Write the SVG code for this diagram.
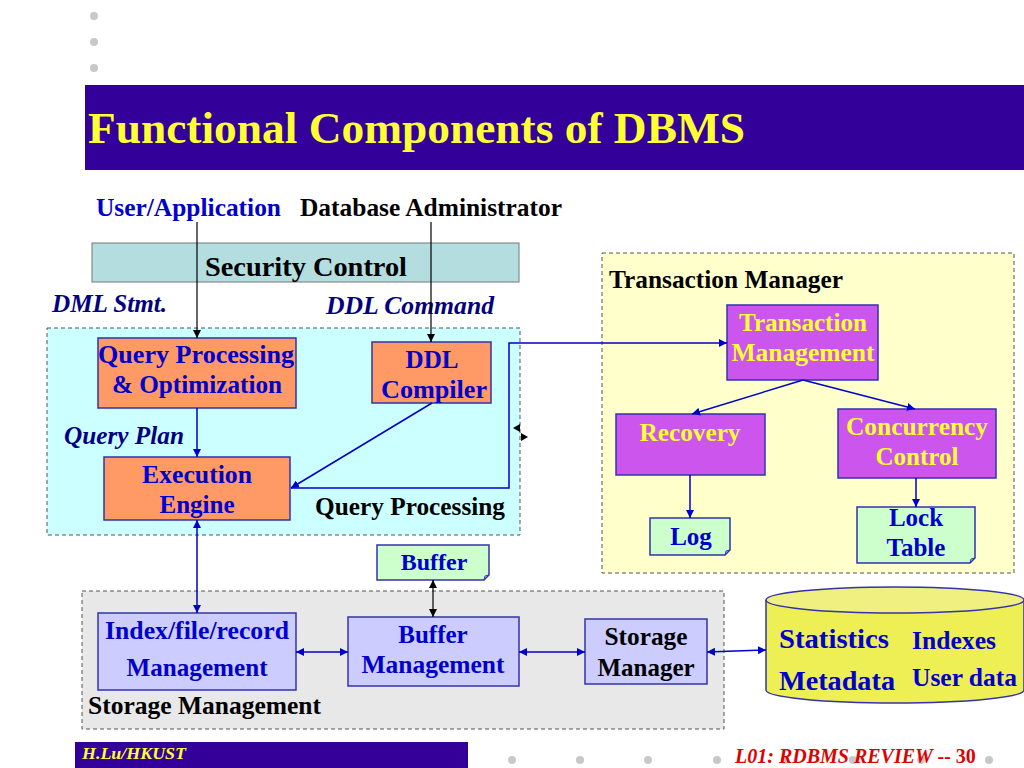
<svg xmlns="http://www.w3.org/2000/svg" width="1024" height="768" viewBox="0 0 1024 768">
<defs>
<style>
text{font-family:"Liberation Serif","Times New Roman",serif;font-weight:bold}
.dot{fill:#c8c8c8}
.box{stroke:#3333aa;stroke-width:1.5}
.qp{fill:#ff9966}
.tm{fill:#cc55ee}
.sm{fill:#ccccff}
.note{fill:#ccffcc;stroke:#3333aa;stroke-width:1.5}
.blue{fill:#0000cc}
.navy{fill:#000080;font-style:italic}
.yel{fill:#ffff33}
.blk{fill:#000}
.c{text-anchor:middle}
.bl{stroke:#0000cc;stroke-width:1.5;fill:none}
.kl{stroke:#000;stroke-width:1.2;fill:none}
.dash{stroke:#555;stroke-width:1;stroke-dasharray:4,3}
</style>
<marker id="ab" viewBox="0 0 10 10" refX="10" refY="5" markerWidth="8" markerHeight="8" orient="auto-start-reverse" markerUnits="userSpaceOnUse"><path d="M0,0L10,5L0,10z" fill="#0000cc"/></marker>
<marker id="ak" viewBox="0 0 10 10" refX="10" refY="5" markerWidth="8" markerHeight="8" orient="auto-start-reverse" markerUnits="userSpaceOnUse"><path d="M0,0L10,5L0,10z" fill="#000"/></marker>
</defs>
<rect width="1024" height="768" fill="#fff"/>
<g id="decor">
<circle class="dot" cx="94" cy="16" r="4"/><circle class="dot" cx="94" cy="42" r="4"/><circle class="dot" cx="94" cy="68" r="4"/>
<circle class="dot" cx="512" cy="760" r="4"/><circle class="dot" cx="580" cy="760" r="4"/><circle class="dot" cx="648" cy="760" r="4"/><circle class="dot" cx="717" cy="760" r="4"/><circle class="dot" cx="785" cy="760" r="4"/><circle class="dot" cx="853" cy="760" r="4"/><circle class="dot" cx="921" cy="760" r="4"/><circle class="dot" cx="989" cy="760" r="4"/>
</g>
<g id="title">
<rect x="85" y="85" width="939" height="85" fill="#330099"/>
<text x="88" y="143" font-size="44" class="yel" textLength="657" lengthAdjust="spacingAndGlyphs">Functional Components of DBMS</text>
</g>
<g id="footer">
<rect x="75" y="742" width="393" height="26" fill="#330099"/>
<text x="82" y="759" font-size="17" class="yel" font-style="italic" textLength="104" lengthAdjust="spacingAndGlyphs">H.Lu/HKUST</text>
<text x="735" y="763" font-size="20" fill="#e00000" font-style="italic">L01: RDBMS REVIEW <tspan font-style="normal">-- 30</tspan></text>
</g>
<g id="qp-group">
<rect x="47" y="328" width="473" height="207" fill="#ccffff" class="dash"/>
<text x="315" y="515" font-size="25" class="blk" textLength="190" lengthAdjust="spacingAndGlyphs">Query Processing</text>
</g>
<g id="tm-group">
<rect x="602" y="253" width="412" height="320" fill="#ffffcc" class="dash"/>
<text x="609" y="288" font-size="25" class="blk" textLength="234" lengthAdjust="spacingAndGlyphs">Transaction Manager</text>
</g>
<g id="sm-group">
<rect x="82" y="591" width="642" height="138" fill="#e8e8e8" class="dash"/>
<text x="88" y="714" font-size="25" class="blk" textLength="233" lengthAdjust="spacingAndGlyphs">Storage Management</text>
</g>
<g id="labels">
<text x="96" y="216" font-size="25" class="blue" textLength="185" lengthAdjust="spacingAndGlyphs">User/Application</text>
<text x="300" y="216" font-size="25" class="blk" textLength="262" lengthAdjust="spacingAndGlyphs">Database Administrator</text>
<text x="52" y="312" font-size="25" class="navy" textLength="115" lengthAdjust="spacingAndGlyphs">DML Stmt.</text>
<text x="326" y="314" font-size="25" class="navy" textLength="168" lengthAdjust="spacingAndGlyphs">DDL Command</text>
<text x="64" y="444" font-size="25" class="navy" textLength="120" lengthAdjust="spacingAndGlyphs">Query Plan</text>
</g>
<g id="security">
<rect x="92" y="243" width="427" height="39" fill="#b4dde0" stroke="#777" stroke-width="1"/>
<text x="306" y="276" font-size="28" class="blk c" textLength="202" lengthAdjust="spacingAndGlyphs">Security Control</text>
</g>
<g id="qpo">
<rect x="98" y="338" width="198" height="70" class="box qp"/>
<text x="196" y="363" font-size="25" class="blue c" textLength="196" lengthAdjust="spacingAndGlyphs">Query Processing</text>
<text x="197" y="393" font-size="25" class="blue c" textLength="170" lengthAdjust="spacingAndGlyphs">&amp; Optimization</text>
</g>
<g id="ddl">
<rect x="372" y="342" width="119" height="61" class="box qp"/>
<text x="432" y="368" font-size="25" class="blue c">DDL</text>
<text x="434" y="398" font-size="25" class="blue c" textLength="106" lengthAdjust="spacingAndGlyphs">Compiler</text>
</g>
<g id="exec">
<rect x="104" y="457" width="186" height="63" class="box qp"/>
<text x="197" y="483" font-size="25" class="blue c" textLength="110" lengthAdjust="spacingAndGlyphs">Execution</text>
<text x="197" y="513" font-size="25" class="blue c">Engine</text>
</g>
<g id="tmgmt">
<rect x="727" y="305" width="151" height="75" class="box tm"/>
<text x="803" y="331" font-size="25" class="yel c" textLength="128" lengthAdjust="spacingAndGlyphs">Transaction</text>
<text x="803" y="361" font-size="25" class="yel c" textLength="143" lengthAdjust="spacingAndGlyphs">Management</text>
</g>
<g id="recovery">
<rect x="616" y="414" width="149" height="61" class="box tm"/>
<text x="690" y="441" font-size="25" class="yel c" textLength="101" lengthAdjust="spacingAndGlyphs">Recovery</text>
</g>
<g id="concurrency">
<rect x="838" y="409" width="158" height="69" class="box tm"/>
<text x="917" y="435" font-size="25" class="yel c" textLength="142" lengthAdjust="spacingAndGlyphs">Concurrency</text>
<text x="917" y="465" font-size="25" class="yel c">Control</text>
</g>
<g id="log">
<path d="M650,518H730V550L725,555H650Z" class="note"/>
<path d="M725,555L726,551L730,550" fill="none" stroke="#3333aa" stroke-width="1"/>
<text x="691" y="545" font-size="25" class="blue c">Log</text>
</g>
<g id="locktable">
<path d="M857,507H975V558L970,563H857Z" class="note"/>
<path d="M970,563L971,559L975,558" fill="none" stroke="#3333aa" stroke-width="1"/>
<text x="916" y="526" font-size="25" class="blue c">Lock</text>
<text x="916" y="556" font-size="25" class="blue c">Table</text>
</g>
<g id="buffer">
<path d="M377,545H489V575L484,580H377Z" class="note"/>
<path d="M484,580L485,576L489,575" fill="none" stroke="#3333aa" stroke-width="1"/>
<text x="434" y="570" font-size="24" class="blue c">Buffer</text>
</g>
<g id="ifr">
<rect x="98" y="613" width="198" height="77" class="box sm"/>
<text x="197" y="639" font-size="25" class="blue c" textLength="184" lengthAdjust="spacingAndGlyphs">Index/file/record</text>
<text x="197" y="676" font-size="25" class="blue c" textLength="141" lengthAdjust="spacingAndGlyphs">Management</text>
</g>
<g id="bufmgmt">
<rect x="348" y="617" width="171" height="69" class="box sm"/>
<text x="433" y="643" font-size="25" class="blue c">Buffer</text>
<text x="433" y="673" font-size="25" class="blue c" textLength="143" lengthAdjust="spacingAndGlyphs">Management</text>
</g>
<g id="storagemgr">
<rect x="585" y="619" width="122" height="65" class="box sm"/>
<text x="646" y="645" font-size="25" class="blk c" textLength="83" lengthAdjust="spacingAndGlyphs">Storage</text>
<text x="646" y="676" font-size="25" class="blk c">Manager</text>
</g>
<g id="database">
<path d="M766,600V690A129,13 0 0 0 1024,690V600" fill="#eeee55" stroke="#3333aa" stroke-width="1.5"/>
<ellipse cx="895" cy="600" rx="129" ry="13" fill="#f0f080" stroke="#3333aa" stroke-width="1.5"/>
<text x="779" y="648" font-size="28" class="blue" textLength="110" lengthAdjust="spacingAndGlyphs">Statistics</text>
<text x="912" y="649" font-size="25" class="blue" textLength="84" lengthAdjust="spacingAndGlyphs">Indexes</text>
<text x="779" y="690" font-size="28" class="blue" textLength="116" lengthAdjust="spacingAndGlyphs">Metadata</text>
<text x="912" y="686" font-size="25" class="blue" textLength="105" lengthAdjust="spacingAndGlyphs">User data</text>
</g>
<g id="connectors">
<line x1="197" y1="222" x2="197" y2="338" class="kl" marker-end="url(#ak)"/>
<line x1="431" y1="222" x2="431" y2="342" class="kl" marker-end="url(#ak)"/>
<line x1="197" y1="408" x2="197" y2="457" class="bl" marker-end="url(#ab)"/>
<line x1="432" y1="403" x2="291" y2="488" class="bl" marker-end="url(#ab)"/>
<polyline points="291,488 509,488 509,343 727,343" class="bl" marker-end="url(#ab)"/>
<line x1="803" y1="380" x2="692" y2="414" class="bl" marker-end="url(#ab)"/>
<line x1="803" y1="380" x2="915" y2="409" class="bl" marker-end="url(#ab)"/>
<line x1="690" y1="475" x2="690" y2="518" class="bl" marker-end="url(#ab)"/>
<line x1="916" y1="478" x2="916" y2="507" class="bl" marker-end="url(#ab)"/>
<line x1="197" y1="520" x2="197" y2="613" class="bl" marker-start="url(#ab)" marker-end="url(#ab)"/>
<line x1="433" y1="580" x2="433" y2="617" class="kl" marker-start="url(#ak)" marker-end="url(#ak)"/>
<line x1="296" y1="652" x2="348" y2="652" class="bl" marker-start="url(#ab)" marker-end="url(#ab)"/>
<line x1="519" y1="652" x2="585" y2="652" class="bl" marker-start="url(#ab)" marker-end="url(#ab)"/>
<line x1="707" y1="652" x2="766" y2="650" class="bl" marker-start="url(#ab)" marker-end="url(#ab)"/>
<path d="M513,428L520,424L520,432Z" fill="#000"/>
<path d="M528,437L521,433L521,441Z" fill="#000"/>
</g>
</svg>
